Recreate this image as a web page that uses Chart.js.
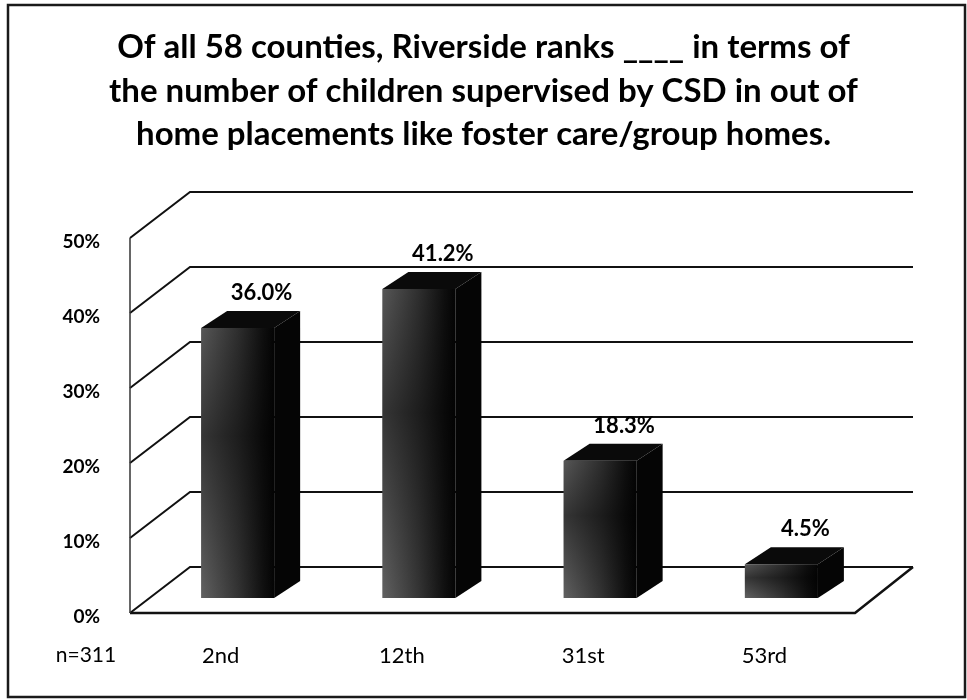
<!DOCTYPE html>
<html>
<head>
<meta charset="utf-8">
<script src="https://cdn.jsdelivr.net/npm/chart.js@4"></script>
<style>
  html, body { margin: 0; padding: 0; background: #fff; }
  #wrap { width: 967px; height: 700px; }
</style>
</head>
<body>
<div id="wrap"><canvas id="rankChart" width="967" height="700"></canvas></div>
<script>
const titleLines = [
    'Of all 58 counties, Riverside ranks ____ in terms of',
    'the number of children supervised by CSD in out of',
    'home placements like foster care/group homes.'
];
const categories = ['2nd', '12th', '31st', '53rd'];
const percentValues = [36.0, 41.2, 18.3, 4.5];
const valueLabels = ['36.0%', '41.2%', '18.3%', '4.5%'];
const tickValues = [0, 10, 20, 30, 40, 50];
const sampleNote = 'n=311';

// fake 3d offsets (pixels)
const BACK_DX = 60, BACK_DY = -46;   // back wall of the box
const BAR_DX = 17, BAR_DY = -15;     // plane the bars stand in
const DEPTH_DX = 26, DEPTH_DY = -17; // thickness of a bar

function path(ctx, pts) {
    ctx.beginPath();
    ctx.moveTo(pts[0][0], pts[0][1]);
    for (let i = 1; i < pts.length; i++) ctx.lineTo(pts[i][0], pts[i][1]);
    ctx.closePath();
}

const box3d = {
    id: 'box3d',
    beforeDraw(chart) {
        const ctx = chart.ctx;
        ctx.save();
        ctx.fillStyle = '#fff';
        ctx.fillRect(0, 0, chart.width, chart.height);
        ctx.strokeStyle = '#1a1a1a';
        ctx.lineWidth = 2.5;
        ctx.strokeRect(8, 5, 957, 692);
        ctx.restore();
    },
    beforeDatasetsDraw(chart) {
        const ctx = chart.ctx;
        const area = chart.chartArea;
        const yScale = chart.scales.y;
        const backRight = area.right + BACK_DX - 2;
        ctx.save();
        ctx.strokeStyle = '#111';
        ctx.lineWidth = 2;
        ctx.lineJoin = 'miter';
        yScale.ticks.forEach(t => {
            const y = yScale.getPixelForValue(t.value);
            ctx.beginPath();
            ctx.moveTo(area.left, y);
            ctx.lineTo(area.left + BACK_DX, y + BACK_DY);
            ctx.lineTo(backRight, y + BACK_DY);
            ctx.stroke();
        });
        // floor edges
        const y0 = yScale.getPixelForValue(0);
        ctx.lineWidth = 2.5;
        ctx.beginPath();
        ctx.moveTo(area.left, y0);
        ctx.lineTo(area.right, y0);
        ctx.lineTo(backRight, y0 + BACK_DY);
        ctx.stroke();
        // front edge of the left wall
        ctx.lineWidth = 1.5;
        ctx.strokeStyle = '#333';
        ctx.beginPath();
        ctx.moveTo(area.left, yScale.getPixelForValue(yScale.max));
        ctx.lineTo(area.left, y0);
        ctx.stroke();
        ctx.restore();
    },
    afterDatasetsDraw(chart) {
        const ctx = chart.ctx;
        const meta = chart.getDatasetMeta(0);
        ctx.save();
        meta.data.forEach((bar, i) => {
            const fx0 = bar.x - bar.width / 2 + BAR_DX;
            const fx1 = bar.x + bar.width / 2 + BAR_DX;
            const fy0 = bar.y + BAR_DY;
            const fy1 = bar.base + BAR_DY;

            // side
            ctx.fillStyle = '#050505';
            path(ctx, [[fx1, fy0], [fx1 + DEPTH_DX, fy0 + DEPTH_DY], [fx1 + DEPTH_DX, fy1 + DEPTH_DY], [fx1, fy1]]);
            ctx.fill();
            // top
            ctx.fillStyle = '#0a0a0a';
            path(ctx, [[fx0, fy0], [fx0 + DEPTH_DX, fy0 + DEPTH_DY], [fx1 + DEPTH_DX, fy0 + DEPTH_DY], [fx1, fy0]]);
            ctx.fill();
            // front
            const grad = ctx.createLinearGradient(fx0, 0, fx1, 0);
            grad.addColorStop(0, '#6c6c6c');
            grad.addColorStop(0.5, '#3a3a3a');
            grad.addColorStop(0.85, '#121212');
            grad.addColorStop(1, '#050505');
            ctx.fillStyle = grad;
            ctx.fillRect(fx0, fy0, fx1 - fx0, fy1 - fy0);
            const shade = ctx.createLinearGradient(0, fy0, 0, fy1);
            shade.addColorStop(0, 'rgba(0,0,0,0.2)');
            shade.addColorStop(0.4, 'rgba(0,0,0,0.5)');
            shade.addColorStop(1, 'rgba(0,0,0,0.1)');
            ctx.fillStyle = shade;
            ctx.fillRect(fx0, fy0, fx1 - fx0, fy1 - fy0);

            // value label
            ctx.fillStyle = '#000';
            ctx.font = 'bold 22px Lato';
            ctx.textAlign = 'center';
            ctx.textBaseline = 'middle';
            ctx.fillText(valueLabels[i], (fx0 + fx1) / 2 + DEPTH_DX - 2, fy0 + DEPTH_DY - 18);
        });
        ctx.restore();
    },
    afterDraw(chart) {
        const ctx = chart.ctx;
        const xScale = chart.scales.x;
        ctx.save();
        ctx.fillStyle = '#000';
        ctx.font = '21px Lato';
        ctx.textAlign = 'center';
        ctx.textBaseline = 'middle';
        ctx.fillText(sampleNote, chart.chartArea.left - 44, xScale.top + 42);
        ctx.restore();
    }
};

new Chart(document.getElementById('rankChart'), {
    type: 'bar',
    data: {
        labels: categories,
        datasets: [{
            data: percentValues,
            backgroundColor: 'rgba(0,0,0,0)',
            borderWidth: 0,
            barPercentage: 0.403,
            categoryPercentage: 1
        }]
    },
    options: {
        responsive: false,
        animation: false,
        layout: { padding: 0 },
        plugins: {
            legend: { display: false },
            tooltip: { enabled: false },
            title: {
                display: true,
                text: titleLines,
                color: '#000',
                font: { family: 'Lato', size: 33, weight: 'bold', lineHeight: 1.315 },
                padding: { top: 26, bottom: 81.8 }
            }
        },
        scales: {
            x: {
                grid: { display: false, drawTicks: false },
                border: { display: false },
                ticks: { color: '#000', font: { family: 'Lato', size: 22 }, padding: 30 },
                afterFit(scale) { scale.height = 87; }
            },
            y: {
                min: 0,
                max: 50,
                afterBuildTicks(scale) {
                    scale.ticks = tickValues.map(v => ({ value: v }));
                },
                grid: { display: false, drawTicks: false },
                border: { display: false },
                ticks: {
                    color: '#000',
                    font: { family: 'Lato', size: 19, weight: 'bold' },
                    padding: 30,
                    labelOffset: 4,
                    callback: v => v + '%'
                },
                afterFit(scale) { scale.width = 130; }
            },
            // empty strip on the right, keeps the floor short of the frame
            side: {
                type: 'linear',
                position: 'right',
                grid: { display: false, drawTicks: false },
                border: { display: false },
                ticks: { display: false },
                afterFit(scale) { scale.width = 112; }
            }
        }
    },
    plugins: [box3d]
});
</script>
</body>
</html>
